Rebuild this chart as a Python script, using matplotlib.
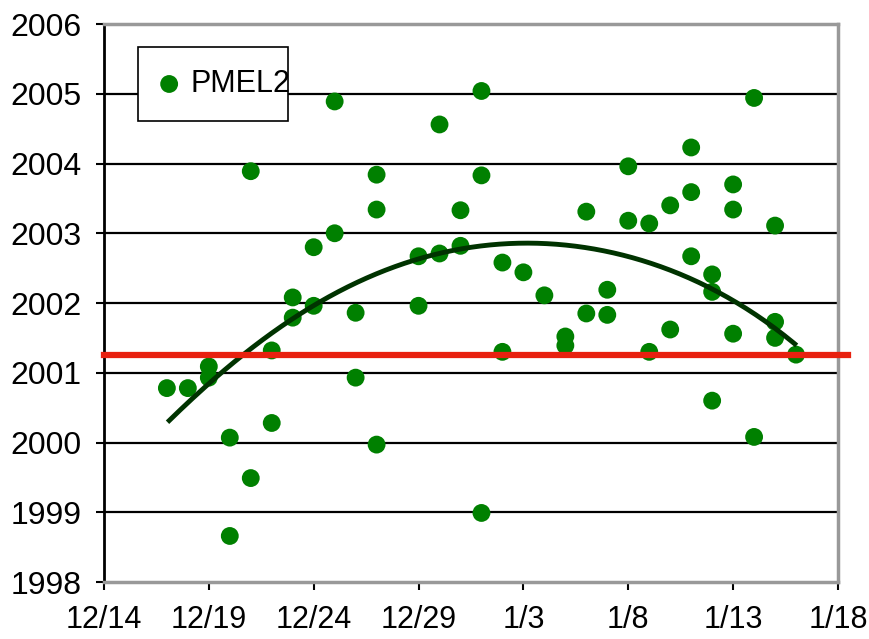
import matplotlib
matplotlib.use("Agg")
import matplotlib.pyplot as plt
from matplotlib.patches import Rectangle
import numpy as np
import datetime as dt

plt.rcParams['font.family'] = ['Liberation Sans', 'DejaVu Sans']

# data: date (m/d) and year value
dates = ["12/17", "12/18", "12/19", "12/19", "12/20", "12/20", "12/21", "12/21",
         "12/22", "12/22", "12/23", "12/23", "12/24", "12/24", "12/25", "12/25",
         "12/26", "12/26", "12/27", "12/27", "12/27", "12/29", "12/29", "12/30",
         "12/30", "12/31", "12/31", "1/1", "1/1", "1/1", "1/2", "1/2", "1/3",
         "1/4", "1/5", "1/5", "1/6", "1/6", "1/7", "1/7", "1/8", "1/8", "1/9",
         "1/9", "1/10", "1/10", "1/11", "1/11", "1/11", "1/12", "1/12", "1/12",
         "1/13", "1/13", "1/13", "1/14", "1/14", "1/15", "1/15", "1/15", "1/16"]
values = [2000.78, 2000.78, 2001.09, 2000.93, 2000.07, 1998.66, 2003.89, 1999.49,
          2001.32, 2000.28, 2002.08, 2001.79, 2002.80, 2001.96, 2004.89, 2003.00,
          2001.86, 2000.93, 2003.84, 2003.34, 1999.97, 2002.67, 2001.96, 2004.56,
          2002.71, 2003.33, 2002.82, 2005.04, 2003.83, 1998.99, 2002.58, 2001.30,
          2002.44, 2002.11, 2001.52, 2001.39, 2003.31, 2001.85, 2002.19, 2001.83,
          2003.96, 2003.18, 2003.14, 2001.30, 2003.40, 2001.62, 2004.23, 2003.59,
          2002.67, 2002.41, 2002.16, 2000.60, 2003.70, 2003.34, 2001.56, 2004.94,
          2000.08, 2003.11, 2001.73, 2001.50, 2001.26]

# trend curve (days after 12/14, value)
trend_days = [3.03, 4.62, 6.52, 8.27, 10.17, 12.4, 14.62, 17.0, 18.6, 20.2,
              22.87, 25.25, 27.16, 29.22, 30.97, 32.2, 33.03]
trend_values = [2000.29, 2000.73, 2001.26, 2001.62, 2001.98, 2002.34, 2002.58,
                2002.79, 2002.85, 2002.87, 2002.79, 2002.62, 2002.46, 2002.17,
                2001.86, 2001.60, 2001.38]

reference_level = 2001.25
tick_labels = ["12/14", "12/19", "12/24", "12/29", "1/3", "1/8", "1/13", "1/18"]
series_name = "PMEL2"

origin = dt.date(2005, 12, 14)


def to_day(s):
    m, d = map(int, s.split("/"))
    y = 2005 if m == 12 else 2006
    return (dt.date(y, m, d) - origin).days


x = np.array([to_day(s) for s in dates], dtype=float)
y = np.array(values)
tick_pos = [to_day(s) for s in tick_labels]

fig = plt.figure(figsize=(8.7, 6.39), dpi=100)
ax = fig.add_axes([0.1195, 0.0892, 0.8437, 0.8732])

ax.set_xlim(tick_pos[0], tick_pos[-1])
ax.set_ylim(1998, 2006)
ax.set_yticks(np.arange(1998, 2007, 1))
ax.set_xticks(tick_pos)
ax.set_xticklabels(tick_labels)

for yy in range(1999, 2006):
    ax.axhline(yy, color='black', lw=1.6, zorder=1)

ax.scatter(x, y, s=165, color='#008000', zorder=3, label=series_name, edgecolors='none')

# smooth the read trend points with a polynomial fit
tcoef = np.polyfit(trend_days, trend_values, 5)
tx = np.linspace(min(trend_days), max(trend_days), 200)
ax.plot(tx, np.polyval(tcoef, tx), color='#003300', lw=3.5, zorder=4,
        solid_capstyle='butt')

ax.plot([0, 1.014], [reference_level, reference_level], transform=ax.get_yaxis_transform(),
        color='#e8210f', lw=4.5, zorder=5, clip_on=False)

for side in ['top', 'right', 'bottom']:
    ax.spines[side].set_color('#999999')
    ax.spines[side].set_linewidth(2.5)
ax.spines['left'].set_color('black')
ax.spines['left'].set_linewidth(2)

ax.tick_params(axis='y', direction='out', length=6, width=1.5, color='black',
               labelsize=23, pad=10)
ax.tick_params(axis='x', direction='out', length=6, width=1.5, color='black',
               labelsize=22, pad=10.5)

leg = ax.legend(loc='center left', bbox_to_anchor=(0.068, 0.8925), fontsize=22,
                frameon=False, handletextpad=0.2, borderpad=0,
                handlelength=1.0, borderaxespad=0)
ax.add_patch(Rectangle((0.0463, 0.8262), 0.2044, 0.1326, transform=ax.transAxes,
                       facecolor='white', edgecolor='black', lw=1.2, zorder=6))
leg.set_zorder(7)

fig.savefig("out.png", dpi=100)
